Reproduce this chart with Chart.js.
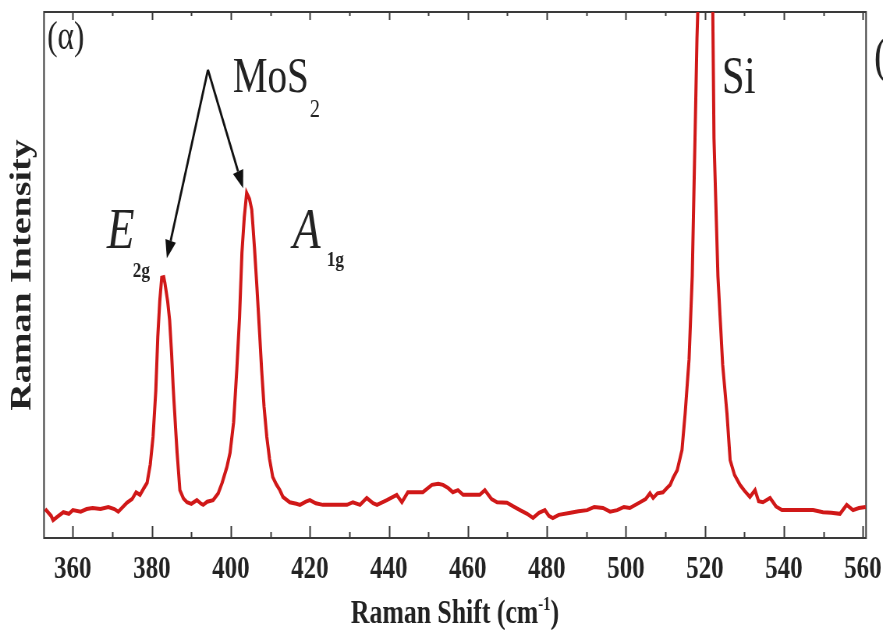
<!DOCTYPE html>
<html>
<head>
<meta charset="utf-8">
<title>Raman spectrum MoS2</title>
<script src="https://cdn.jsdelivr.net/npm/chart.js@4.4.1/dist/chart.umd.min.js"></script>
<style>
  html, body { margin: 0; padding: 0; background: #fff; overflow: hidden; }
  #wrap { width: 883px; height: 630px; overflow: hidden; }
  /* the original figure is squeezed horizontally */
  #chart { transform: scaleX(0.78); transform-origin: 0 0; }
</style>
</head>
<body>
<div id="wrap"><canvas id="chart" width="1132" height="630"></canvas></div>
<script>
// --- data ---
const shift = [
  353, 354.5, 355, 356, 357.6, 359, 360, 362, 363.5, 365, 367, 369, 370.5, 371.5, 373.7, 375, 376, 377, 378, 378.8,
  379.6, 380.3, 381, 381.5, 382, 382.5, 383, 383.3, 384, 384.5, 385, 385.4, 386, 386.4, 387.1, 388, 388.9, 390, 391.4, 392.5,
  393, 394, 395.5, 396.8, 397.8, 399, 399.8, 400.7, 401.5, 402.2, 402.8, 403.4, 404, 404.7, 405.3, 406, 406.6, 407.2, 407.8, 408.4,
  409.1, 409.8, 410.6, 411.5, 412.4, 413.2, 414.9, 416.6, 417.5, 419, 420, 421.5, 423.3, 426, 429.4, 430.9, 432.7, 434.4, 436, 437,
  439.5, 442, 443.3, 444.8, 447, 448.6, 450.9, 452.5, 453.7, 455, 456.2, 457.5, 458.8, 461, 463, 464.3, 466, 467.4, 469.9, 471.5,
  473.2, 475, 476.5, 478, 479.5, 480.5, 481.5, 483, 486, 488, 490.2, 492, 494.2, 496, 497.8, 499.5, 501, 503.6, 505, 506.1,
  506.9, 508, 509.4, 510.4, 511.2, 512, 513, 514.2, 515, 516, 516.8, 517.5, 518, 519, 520, 521, 522, 522.3, 523.3, 524.5,
  525.6, 526.4, 527.5, 528.9, 530, 531.4, 532.7, 533.6, 534.7, 536.5, 538, 539.5, 542, 545, 547.4, 549.9, 552, 554.2, 555.9, 557.5,
  559, 560.7
];
const intensity = [
  5.5, 4.2, 3.4, 4.0, 4.9, 4.6, 5.3, 5.0, 5.5, 5.7, 5.5, 5.9, 5.5, 5.0, 6.7, 7.4, 8.7, 8.2, 9.5, 10.5,
  14, 19.2, 28, 38.2, 45, 49.5, 49.6, 48.5, 45, 41.4, 35, 28.7, 21, 16.2, 9.1, 7.5, 6.8, 6.5, 7.2, 6.5,
  6.3, 6.9, 7.2, 8.5, 10.5, 13.5, 16.2, 22, 31.9, 42, 54.2, 61, 65.6, 64.5, 62.4, 55, 47.7, 40, 31.9, 25,
  19.2, 15, 11.6, 10.2, 9.1, 7.8, 6.8, 6.5, 6.3, 6.9, 7.2, 6.6, 6.3, 6.3, 6.3, 6.8, 6.3, 7.6, 6.6, 6.3,
  7.2, 8.2, 6.8, 8.7, 8.7, 8.7, 10.1, 10.3, 10.1, 9.5, 8.7, 9.1, 8.2, 8.2, 8.2, 9.1, 7.4, 6.8, 6.7, 6.0,
  5.3, 4.6, 3.8, 4.8, 5.3, 4.2, 3.8, 4.4, 4.8, 5.1, 5.3, 5.9, 5.7, 5.0, 5.3, 5.9, 5.7, 6.8, 7.4, 8.5,
  7.6, 8.5, 8.7, 9.5, 10.1, 11.5, 12.9, 16.7, 23.6, 34, 49.8, 76, 95, 120, 135, 128, 100, 76, 49.8, 33,
  23.6, 14.8, 12, 10.1, 9, 7.8, 9.1, 7, 6.8, 7.6, 6.0, 5.3, 5.3, 5.3, 5.3, 4.9, 4.8, 4.6, 6.3, 5.3,
  5.7, 5.9
];
const xTicks = [360, 380, 400, 420, 440, 460, 480, 500, 520, 540, 560];

const serif = '"Liberation Serif", "Times New Roman", serif';
const ink = '#222';

// labels placed in data coordinates
const labels = [
  { text: '(α)', x: 353.5, y: 93.0, font: '40px ' + serif },
  { text: 'MoS', x: 400.5, y: 84.8, font: '50px ' + serif },
  { text: '2', x: 420.0, y: 80.0, font: '26px ' + serif },
  { text: 'E', x: 368.6, y: 55.1, font: 'italic 58px ' + serif },
  { text: '2g', x: 375.2, y: 49.6, font: 'bold 22px ' + serif },
  { text: 'A', x: 415.7, y: 55.1, font: 'italic 58px ' + serif },
  { text: '1g', x: 424.3, y: 51.7, font: 'bold 22px ' + serif },
  { text: 'Si', x: 524.3, y: 84.6, font: '52px ' + serif }
];
const arrowFrom = [394.2, 89];
const arrowTips = [[383.8, 53.2], [403.1, 66.5]];

const decor = {
  id: 'decor',
  beforeDatasetsDraw(chart) {
    const { ctx, chartArea: a, scales: { x } } = chart;
    ctx.save();
    ctx.strokeStyle = '#3a3a3a';
    ctx.lineWidth = 2;
    ctx.strokeRect(a.left, a.top, a.right - a.left, a.bottom - a.top);
    ctx.beginPath();
    const minor = xTicks.slice(1).map(v => v - 10);
    xTicks.concat(minor).forEach(v => {
      const px = Math.round(x.getPixelForValue(v)) + 0.5;
      const major = xTicks.includes(v);
      ctx.moveTo(px, a.bottom);
      ctx.lineTo(px, a.bottom - (major ? 12 : 6));
      ctx.moveTo(px, a.top);
      ctx.lineTo(px, a.top + (major ? 8 : 4));
    });
    ctx.stroke();
    ctx.restore();
  },
  afterDatasetsDraw(chart) {
    const { ctx, chartArea: a, scales: { x, y } } = chart;
    ctx.save();
    ctx.fillStyle = ink;
    ctx.textBaseline = 'alphabetic';
    ctx.textAlign = 'left';
    labels.forEach(l => {
      ctx.font = l.font;
      ctx.fillText(l.text, x.getPixelForValue(l.x), y.getPixelForValue(l.y));
    });

    // arrows from MoS2 to the two peaks
    ctx.strokeStyle = '#111';
    ctx.fillStyle = '#111';
    ctx.lineWidth = 2.8;
    const x0 = x.getPixelForValue(arrowFrom[0]), y0 = y.getPixelForValue(arrowFrom[1]);
    arrowTips.forEach(t => {
      const x1 = x.getPixelForValue(t[0]), y1 = y.getPixelForValue(t[1]);
      const ang = Math.atan2(y1 - y0, x1 - x0);
      const len = 18, hw = 7;
      const bx = x1 - len * Math.cos(ang), by = y1 - len * Math.sin(ang);
      ctx.beginPath();
      ctx.moveTo(x0, y0);
      ctx.lineTo(bx, by);
      ctx.stroke();
      ctx.beginPath();
      ctx.moveTo(x1, y1);
      ctx.lineTo(bx + hw * Math.sin(ang), by - hw * Math.cos(ang));
      ctx.lineTo(bx - hw * Math.sin(ang), by + hw * Math.cos(ang));
      ctx.closePath();
      ctx.fill();
    });

    // x axis title with superscript
    ctx.fillStyle = ink;
    const main = 'Raman Shift (cm', sup = '-1', end = ')';
    const fMain = 'bold 33px ' + serif, fSup = 'bold 19px ' + serif;
    ctx.font = fMain;
    const wMain = ctx.measureText(main).width, wEnd = ctx.measureText(end).width;
    ctx.font = fSup;
    const wSup = ctx.measureText(sup).width;
    let cx = (a.left + a.right) / 2 - (wMain + wSup + wEnd) / 2;
    const base = 623;
    ctx.font = fMain;
    ctx.fillText(main, cx, base);
    cx += wMain;
    ctx.font = fSup;
    ctx.fillText(sup, cx, base - 13);
    cx += wSup;
    ctx.font = fMain;
    ctx.fillText(end, cx, base);

    // cut-off panel label of the neighbouring figure
    ctx.font = '50px ' + serif;
    ctx.fillText('(b)', 874 / 0.78, 72);
    ctx.restore();
  }
};

new Chart(document.getElementById('chart'), {
  type: 'line',
  data: {
    datasets: [{
      data: shift.map((s, i) => ({ x: s, y: intensity[i] })),
      borderColor: '#d01818',
      borderWidth: 4,
      pointRadius: 0,
      tension: 0,
      clip: 0
    }]
  },
  options: {
    responsive: false,
    animation: false,
    devicePixelRatio: 1,
    layout: { padding: { top: 12, right: 21.7, left: 0, bottom: 0 } },
    plugins: { legend: { display: false }, tooltip: { enabled: false } },
    scales: {
      x: {
        type: 'linear',
        min: 352.7,
        max: 560.8,
        afterBuildTicks: s => { s.ticks = xTicks.map(v => ({ value: v })); },
        afterFit: s => { s.height = 92; s.paddingLeft = 0; s.paddingRight = 0; },
        grid: { display: false, drawTicks: false },
        border: { display: false },
        ticks: {
          font: { family: serif, weight: 'bold', size: 32 },
          color: ink,
          padding: 13,
          maxRotation: 0,
          autoSkip: false
        }
      },
      y: {
        min: 0,
        max: 100,
        afterFit: s => { s.width = 56.4; },
        grid: { display: false, drawTicks: false },
        border: { display: false },
        ticks: { display: false },
        title: {
          display: true,
          text: 'Raman Intensity',
          font: { family: serif, weight: 'bold', size: 38 },
          color: ink,
          padding: { top: 6, bottom: 0 }
        }
      }
    }
  },
  plugins: [decor]
});
</script>
</body>
</html>
